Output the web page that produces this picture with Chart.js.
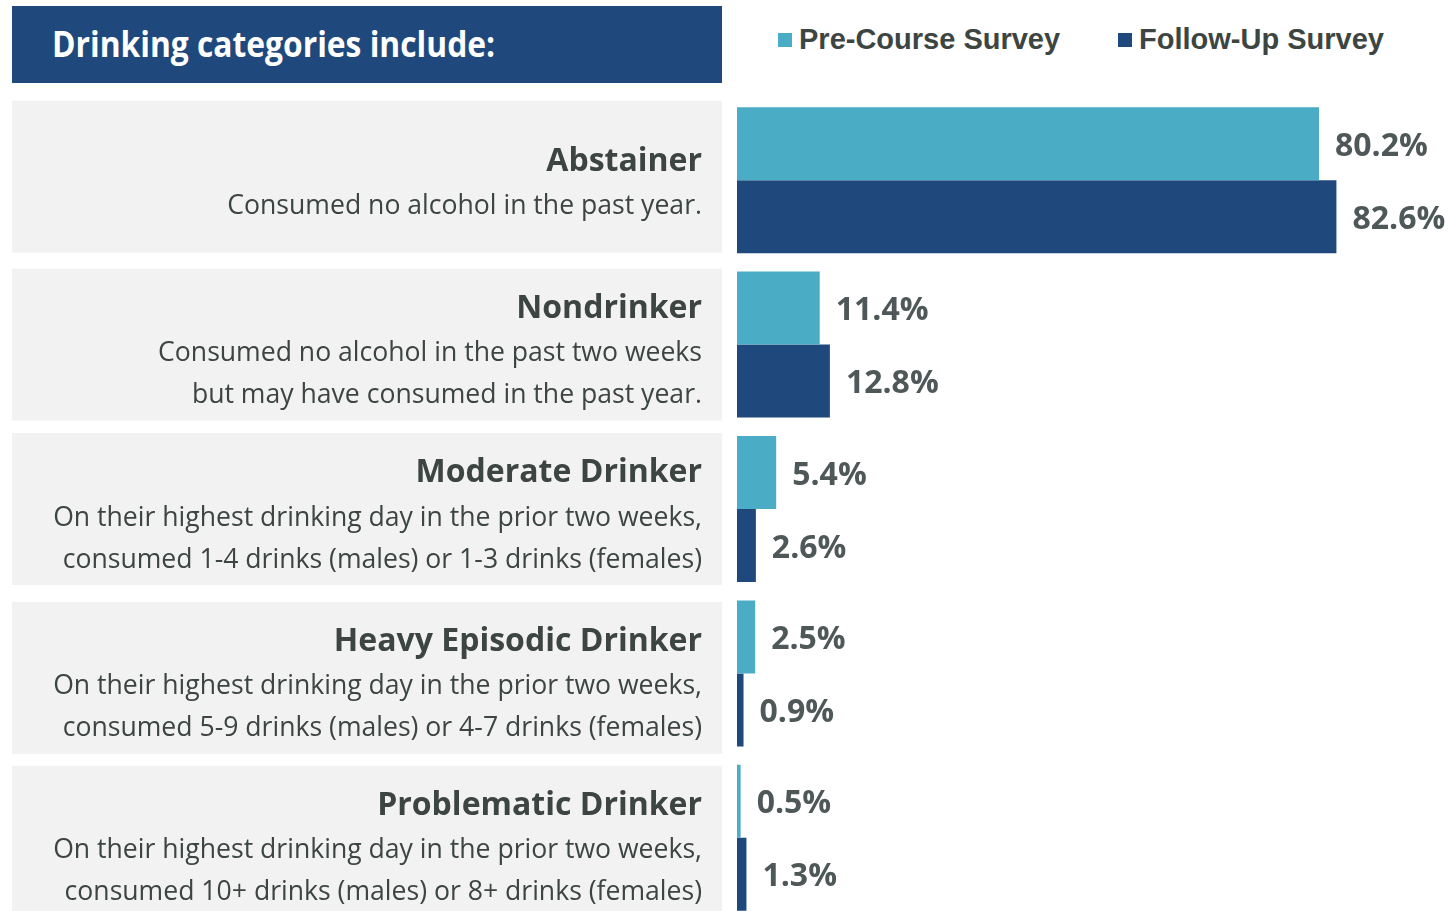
<!DOCTYPE html>
<html>
<head>
<meta charset="utf-8">
<script src="https://cdn.jsdelivr.net/npm/chart.js@4/dist/chart.umd.min.js"></script>
<style>
  html, body { margin: 0; padding: 0; background: #fff; overflow: hidden; }
  #page { position: relative; width: 1448px; height: 911px; overflow: hidden; }
  #header {
    position: absolute; left: 12px; top: 6px; width: 710px; height: 77px;
    background: #1f497d;
  }
  #header span {
    position: absolute; left: 40px; top: 18px; color: #fff;
    font: 700 35px "Open Sans", sans-serif; line-height: 40px;
    white-space: nowrap; transform-origin: 0 50%;
  }
  .legend-item {
    position: absolute; top: 25px; height: 29px; display: flex; align-items: center;
    font: 700 29px "Liberation Sans", Arial, sans-serif; line-height: 29px; color: #3d4543;
    white-space: nowrap;
  }
  .legend-item i { display: inline-block; width: 14px; height: 14px; margin-right: 7px; }
  #chartBox { position: absolute; left: 0; top: 0; width: 1448px; height: 930px; }
</style>
</head>
<body>
<div id="page">
  <div id="header"><span id="headerText">Drinking categories include:</span></div>
  <div class="legend-item" id="leg0" style="left:778px"><i></i><span></span></div>
  <div class="legend-item" id="leg1" style="left:1118px"><i></i><span></span></div>
  <div id="chartBox"><canvas id="myChart"></canvas></div>
</div>
<script>
"use strict";

const categories = ["Abstainer", "Nondrinker", "Moderate Drinker", "Heavy Episodic Drinker", "Problematic Drinker"];
const descriptions = [
  ["Consumed no alcohol in the past year."],
  ["Consumed no alcohol in the past two weeks", "but may have consumed in the past year."],
  ["On their highest drinking day in the prior two weeks,", "consumed 1-4 drinks (males) or 1-3 drinks (females)"],
  ["On their highest drinking day in the prior two weeks,", "consumed 5-9 drinks (males) or 4-7 drinks (females)"],
  ["On their highest drinking day in the prior two weeks,", "consumed 10+ drinks (males) or 8+ drinks (females)"]
];
const seriesNames = ["Pre-Course Survey", "Follow-Up Survey"];
const preCourse = [80.2, 11.4, 5.4, 2.5, 0.5];
const followUp = [82.6, 12.8, 2.6, 0.9, 1.3];

const colors = ["#4bacc6", "#1f497d"];
const textColor = "#3d4543";
const valueColor = "#4f5858";
// the grey boxes don't sit exactly on the bar groups in the original
const panelShift = [-3.5, 0, 0, 4.5, 4];

// legend in html
for (let i = 0; i < seriesNames.length; i++) {
  const item = document.getElementById("leg" + i);
  item.querySelector("i").style.background = colors[i];
  item.querySelector("span").textContent = seriesNames[i];
}

// header font is a condensed face, squeeze open sans to the same width
const headerText = document.getElementById("headerText");
headerText.style.transform = "scaleX(" + (443 / headerText.offsetWidth) + ")";

const panelPlugin = {
  id: "panels",
  beforeDatasetsDraw(chart) {
    const ctx = chart.ctx;
    const yScale = chart.scales.y;
    ctx.save();
    for (let i = 0; i < categories.length; i++) {
      const c = yScale.getPixelForValue(i) + panelShift[i];
      ctx.fillStyle = "#f2f2f2";
      ctx.fillRect(12, c - 76, 710, 152);

      const lines = descriptions[i];
      const total = 45 + 42 * (lines.length - 1);
      let y = c + 7.5 - total / 2;
      ctx.textAlign = "right";
      ctx.textBaseline = "middle";
      ctx.fillStyle = textColor;
      ctx.font = "700 32px 'Open Sans'";
      ctx.fillText(categories[i], 702, y);
      y += 45;
      ctx.font = "400 26.6px 'Open Sans'";
      for (let j = 0; j < lines.length; j++) {
        ctx.fillText(lines[j], 702, y);
        y += 42;
      }
    }
    ctx.restore();
  },
  afterDatasetsDraw(chart) {
    const ctx = chart.ctx;
    ctx.save();
    ctx.font = "700 32px 'Open Sans'";
    ctx.fillStyle = valueColor;
    ctx.textAlign = "left";
    ctx.textBaseline = "middle";
    chart.data.datasets.forEach(function (ds, d) {
      const meta = chart.getDatasetMeta(d);
      meta.data.forEach(function (bar, i) {
        ctx.fillText(ds.data[i].toFixed(1) + "%", bar.x + 16, bar.y + 3);
      });
    });
    ctx.restore();
  }
};

function startChart() {
  const chartConfig = {
    type: "bar",
    data: {
      labels: categories,
      datasets: [
        {
          label: seriesNames[0],
          data: preCourse,
          backgroundColor: colors[0],
          borderWidth: 0,
          categoryPercentage: 0.888,
          barPercentage: 1
        },
        {
          label: seriesNames[1],
          data: followUp,
          backgroundColor: colors[1],
          borderWidth: 0,
          categoryPercentage: 0.888,
          barPercentage: 1
        }
      ]
    },
    options: {
      indexAxis: "y",
      responsive: true,
      maintainAspectRatio: false,
      animation: false,
      layout: { padding: { left: 737, right: 21.6, top: 98, bottom: 10 } },
      scales: {
        x: { display: false, min: 0, max: 95, grid: { display: false } },
        y: { display: false, grid: { display: false } }
      },
      plugins: {
        legend: { display: false },
        tooltip: { enabled: false }
      }
    },
    plugins: [panelPlugin]
  };

  new Chart(document.getElementById("myChart").getContext("2d"), chartConfig);
}

Promise.all([
  document.fonts.load("700 32px 'Open Sans'"),
  document.fonts.load("400 26.6px 'Open Sans'")
]).then(startChart, startChart);
</script>
</body>
</html>
